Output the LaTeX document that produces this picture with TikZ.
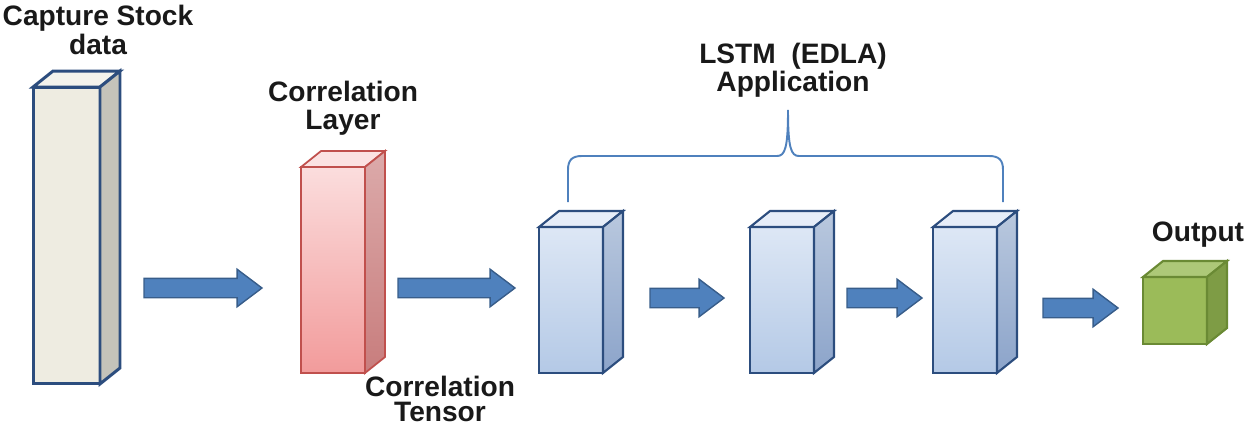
\documentclass[tikz,border=0pt]{standalone}
\usepackage{fontspec}
\setmainfont{Liberation Sans}
\usetikzlibrary{shapes.arrows}

\definecolor{lineblue}{HTML}{2C4D7E}
\definecolor{arrowblue}{HTML}{4F81BD}
\definecolor{arrowedge}{HTML}{385D8A}
\definecolor{linered}{HTML}{C0504D}
\definecolor{linegreen}{HTML}{6A8A34}
\definecolor{stockfront}{HTML}{EEECE1}
\definecolor{stocktop}{HTML}{F4F3EC}
\definecolor{stockside}{HTML}{C4C3BA}
\definecolor{redtop}{HTML}{FBDDDD}
\definecolor{redbottom}{HTML}{F29B9B}
\definecolor{redlid}{HTML}{FBE2E2}
\definecolor{redsidetop}{HTML}{DCAAAA}
\definecolor{redsidebottom}{HTML}{C87D7D}
\definecolor{bluetop}{HTML}{DDE7F5}
\definecolor{bluebottom}{HTML}{B4C9E6}
\definecolor{bluelid}{HTML}{E6EDF8}
\definecolor{bluesidetop}{HTML}{B9C8DE}
\definecolor{bluesidebottom}{HTML}{8CA4CA}
\definecolor{greenfront}{HTML}{9BBB59}
\definecolor{greenlid}{HTML}{ADC878}
\definecolor{greenside}{HTML}{7E9C45}

\tikzset{
	face/.style={draw, outer sep=0pt, inner sep=0pt, line join=miter},
	label/.style={font=\fontsize{16}{16}\selectfont\bfseries, align=center, text=black!90},
	bigarrow/.style={single arrow, draw=arrowedge, fill=arrowblue, line width=0.8pt,
		inner sep=0.18cm, single arrow head extend=0.18cm, single arrow tip angle=74,
		single arrow head indent=0pt, outer sep=0pt, anchor=tail},
	lstm/.style={face, draw=lineblue, line width=1.2pt, top color=bluetop, bottom color=bluebottom,
		minimum width=1.28cm, minimum height=2.92cm}
}

\newcommand{\boxfaces}[4]{%
	\draw[#4, fill=#2] (#1.north west) -- ([shift={(20,-16)}]#1.north west) -- ([shift={(20,-16)}]#1.north east) -- (#1.north east) -- cycle;
	\draw[#4, #3] (#1.north east) -- ([shift={(20,-16)}]#1.north east) -- ([shift={(20,-16)}]#1.south east) -- (#1.south east) -- cycle;
}

\begin{document}
\begin{tikzpicture}[x=0.02cm, y=-0.02cm]
	\useasboundingbox (0,0) rectangle (1250,426);

	\node[face, draw=lineblue, line width=1.7pt, fill=stockfront, minimum width=1.34cm, minimum height=5.94cm] (capture) at (66.5,235.5) {};
	\boxfaces{capture}{stocktop}{fill=stockside}{draw=lineblue, line width=1.7pt}

	\node[face, draw=linered, line width=1pt, top color=redtop, bottom color=redbottom, minimum width=1.28cm, minimum height=4.12cm] (corr) at (333,270) {};
	\boxfaces{corr}{redlid}{top color=redsidetop, bottom color=redsidebottom}{draw=linered, line width=1pt}

	\node[lstm] (lstmA) at (571,300) {};
	\boxfaces{lstmA}{bluelid}{top color=bluesidetop, bottom color=bluesidebottom}{draw=lineblue, line width=1.2pt}

	\node[lstm] (lstmB) at (782,300) {};
	\boxfaces{lstmB}{bluelid}{top color=bluesidetop, bottom color=bluesidebottom}{draw=lineblue, line width=1.2pt}

	\node[lstm] (lstmC) at (965,300) {};
	\boxfaces{lstmC}{bluelid}{top color=bluesidetop, bottom color=bluesidebottom}{draw=lineblue, line width=1.2pt}

	\node[face, draw=linegreen, line width=1.2pt, fill=greenfront, minimum width=1.28cm, minimum height=1.34cm] (output) at (1175,310.5) {};
	\boxfaces{output}{greenlid}{fill=greenside}{draw=linegreen, line width=1.2pt}

	\node[bigarrow, minimum height=2.36cm] (arrA) at (144,288) {};
	\node[bigarrow, minimum height=2.34cm] (arrB) at (398,288) {};
	\node[bigarrow, minimum height=1.48cm] (arrC) at (650,298) {};
	\node[bigarrow, minimum height=1.5cm] (arrD) at (847,298) {};
	\node[bigarrow, minimum height=1.5cm] (arrE) at (1043,308) {};

	\coordinate (braceL) at (568,202);
	\coordinate (braceTip) at (788,110);
	\coordinate (braceR) at (1003,202);
	\draw[arrowblue, line width=1.1pt] (braceL) -- (568,170) .. controls (568,160) and (572,156) .. (582,156) -- (777,156)
		.. controls (785,156) and (788,148) .. (braceTip)
		.. controls (788,148) and (791,156) .. (799,156) -- (989,156)
		.. controls (999,156) and (1003,160) .. (1003,170) -- (braceR);

	\node[label] (captureText) at (98,30) {Capture Stock\\data};
	\node[label] (corrText) at (343,108) {Correlation\\Layer};
	\node[label, font=\fontsize{16}{14.5}\selectfont\bfseries] (tensorText) at (440,399) {Correlation\\Tensor};
	\node[label] (lstmText) at (793,70) {LSTM\ \ (EDLA)\\Application};
	\node[label] (outputText) at (1198,235) {Output};
\end{tikzpicture}
\end{document}
